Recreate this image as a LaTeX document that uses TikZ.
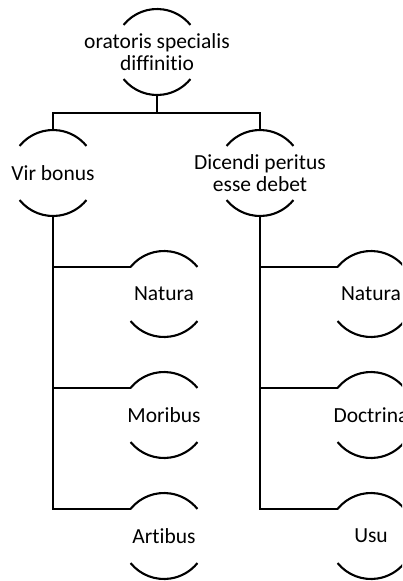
\documentclass[tikz,border=0pt]{standalone}
\usepackage{fontspec}
\setmainfont[Ligatures=NoCommon]{Carlito}
\begin{document}
\begin{tikzpicture}[x=1pt,y=1pt,
  term/.style={circle,minimum size=86pt,inner sep=0pt,outer sep=0pt},
  label text/.style={align=center,inner sep=0pt,
    font=\fontsize{21.5}{22.3}\selectfont},
  conn/.style={line width=2.2pt},
  arcline/.style={line width=2.1pt}]
\useasboundingbox (0,0) rectangle (402,-581);
\clip (0,0) rectangle (402,-581);
\newcommand{\brackets}[1]{%
  \draw[arcline] (#1.141) arc[start angle=141,end angle=39,radius=43pt];
  \draw[arcline] (#1.219) arc[start angle=219,end angle=321,radius=43pt];}
% circles (frames)
\node[term] (root) at (157,-52) {};
\node[term] (vir) at (53,-173) {};
\node[term] (dic) at (260,-173) {};
\node[term] (nat1) at (164,-294) {};
\node[term] (mor) at (164,-415) {};
\node[term] (art) at (164,-536) {};
\node[term] (nat2) at (371,-294) {};
\node[term] (doc) at (371,-415) {};
\node[term] (usu) at (371,-536) {};
% texts
\node[label text] (root-t) at (root.center) {oratoris specialis\\diffinitio};
\node[label text] (vir-t) at (vir.center) {Vir bonus};
\node[label text] (dic-t) at (dic.center) {Dicendi peritus\\esse debet};
\node[label text] (nat1-t) at (nat1.center) {Natura};
\node[label text] (mor-t) at (mor.center) {Moribus};
\node[label text] (art-t) at (art.center) {Artibus};
\node[label text] (nat2-t) at (nat2.center) {Natura};
\node[label text] (doc-t) at (doc.center) {Doctrina};
\node[label text] (usu-t) at (usu.center) {Usu};
\foreach \n in {root,vir,dic,nat1,mor,art,nat2,doc,usu}{\brackets{\n}}
\draw[conn] (root.south) -- ++(0,-18) coordinate (bus);
\draw[conn] (bus) -| (vir.north);
\draw[conn] (bus) -| (dic.north);
\draw[conn] (vir.south) |- (nat1.141);
\draw[conn] (vir.south) |- (mor.141);
\draw[conn] (vir.south) |- (art.141);
\draw[conn] (dic.south) |- (nat2.141);
\draw[conn] (dic.south) |- (doc.141);
\draw[conn] (dic.south) |- (usu.141);
\end{tikzpicture}
\end{document}
